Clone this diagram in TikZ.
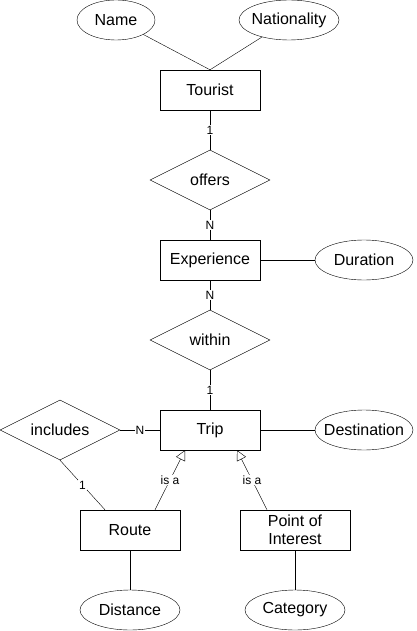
\documentclass[tikz,border=0pt]{standalone}
\usepackage{fontspec}
\setmainfont{Liberation Sans}
\usetikzlibrary{arrows.meta, shapes.geometric}

\begin{document}
\begin{tikzpicture}[x=1pt,y=-1pt,
  entity/.style={draw,rectangle,minimum width=100pt,minimum height=40pt,inner sep=0pt,font=\fontsize{16}{18}\selectfont},
  attr/.style={draw,ellipse,minimum height=40pt,inner sep=0pt,font=\fontsize{16}{18}\selectfont},
  rel/.style={draw,diamond,shape aspect=2,minimum width=120pt,minimum height=60pt,inner sep=0pt,font=\fontsize{16}{18}\selectfont},
  card/.style={fill=white,inner sep=1pt,font=\fontsize{12}{14}\selectfont},
  isa/.style={-{Triangle[open,length=10pt,width=10pt]}}]
  \useasboundingbox (0,0) rectangle (416,631);
  % entities
  \node[entity] (tourist) at (210,90){Tourist};
  \node[entity] (experience) at (210,260){Experience};
  \node[entity] (trip) at (210,430){Trip};
  \node[entity] (route) at (130,530){Route};
  \node[entity,minimum width=110pt,align=center] (poi) at (295,530){Point of\\Interest};
  % attributes
  \node[attr,minimum width=78pt] (name) at (116,20){Name};
  \node[attr,minimum width=100pt,inner xsep=-5pt] (nationality) at (289,20){Nationality};
  \node[attr,minimum width=98pt] (duration) at (364,260){Duration};
  \node[attr,minimum width=98pt,inner xsep=-8pt] (destination) at (364,430){Destination};
  \node[attr,minimum width=100pt] (distance) at (130,610){Distance};
  \node[attr,minimum width=100pt] (category) at (295,610){Category};
  % relationships
  \node[rel] (offers) at (210,180){offers};
  \node[rel] (within) at (210,340){within};
  \node[rel] (includes) at (60,430){includes};
  % connectors
  \draw (name)--(tourist.north);
  \draw (nationality)--(tourist.north);
  \draw (tourist)--(offers) node[card,midway]{1};
  \draw (offers)--(experience) node[card,midway]{N};
  \draw (experience)--(duration);
  \draw (experience)--(within) node[card,midway]{N};
  \draw (within)--(trip) node[card,midway]{1};
  \draw (trip)--(destination);
  \draw (includes)--(trip) node[card,midway]{N};
  \draw (includes.south)--([xshift=-25pt]route.north) node[card,midway]{1};
  \draw[isa] ([xshift=25pt]route.north)--([xshift=-25pt]trip.south) node[card,midway]{is a};
  \draw[isa] ([xshift=-28pt]poi.north)--([xshift=27pt]trip.south) node[card,midway]{is a};
  \draw (route)--(distance);
  \draw (poi)--(category);
\end{tikzpicture}
\end{document}
